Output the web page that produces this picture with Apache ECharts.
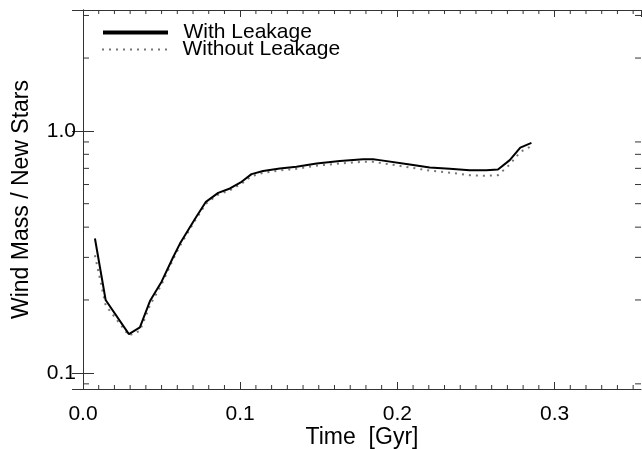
<!DOCTYPE html>
<html>
<head>
<meta charset="utf-8">
<script src="https://cdn.jsdelivr.net/npm/echarts@6/dist/echarts.min.js"></script>
<style>html,body{margin:0;padding:0;background:#fff;}#c{width:642px;height:449px;}</style>
</head>
<body>
<div id="c"></div>
<script>
// ---- data ----
const timeGyr = [0.0076, 0.0144, 0.0292, 0.0362, 0.0426, 0.0500, 0.0574, 0.0617, 0.0712, 0.0782,
  0.0860, 0.0935, 0.1009, 0.1072, 0.1146, 0.1252, 0.1358, 0.1486, 0.1634, 0.1782,
  0.1846, 0.1888, 0.2079, 0.2206, 0.2333, 0.2460, 0.2566, 0.2640, 0.2715, 0.2782, 0.2853];
const withLeakage = [0.359, 0.200, 0.1445, 0.154, 0.198, 0.238, 0.301, 0.342, 0.432, 0.509,
  0.554, 0.578, 0.616, 0.6625, 0.683, 0.699, 0.710, 0.733, 0.750, 0.764,
  0.764, 0.757, 0.726, 0.706, 0.697, 0.688, 0.688, 0.692, 0.757, 0.853, 0.892];
const withoutLeakage = [0.306, 0.190, 0.1425, 0.149, 0.190, 0.232, 0.295, 0.335, 0.425, 0.500,
  0.545, 0.568, 0.605, 0.650, 0.670, 0.686, 0.697, 0.718, 0.733, 0.745,
  0.745, 0.738, 0.706, 0.685, 0.672, 0.656, 0.652, 0.656, 0.726, 0.819, 0.865];
const seriesNames = ['With Leakage', 'Without Leakage'];
const xMinorTicks = [0.01,0.02,0.03,0.04,0.05,0.06,0.07,0.08,0.09,0.11,0.12,0.13,0.14,0.15,0.16,0.17,0.18,0.19,
  0.21,0.22,0.23,0.24,0.25,0.26,0.27,0.28,0.29,0.31,0.32,0.33,0.34,0.35];
const yMinorTicks = [0.09,0.2,0.3,0.4,0.5,0.6,0.7,0.8,0.9,2,3];

const X_MIN = 0, X_MAX = 0.355, Y_MIN = 0.0857, Y_MAX = 3.16;
const FONT = "'Liberation Sans', Arial, Helvetica, sans-serif";
const AX = '#333';

const pair = (xs, ys) => xs.map((x, i) => [x, ys[i]]);
const tickData = xMinorTicks.map(v => [v, Y_MIN, 0]).concat(yMinorTicks.map(v => [X_MIN, v, 1]));

function renderTicks(params, api) {
  const kind = api.value(2);
  const st = { stroke: AX, lineWidth: 1 };
  if (kind === 0) {
    const x = api.value(0);
    const b = api.coord([x, Y_MIN]), t = api.coord([x, Y_MAX]);
    return { type: 'group', children: [
      { type: 'line', shape: { x1: b[0], y1: b[1], x2: b[0], y2: b[1] - 4 }, style: st },
      { type: 'line', shape: { x1: t[0], y1: t[1], x2: t[0], y2: t[1] + 4 }, style: st }
    ]};
  } else {
    const y = api.value(1);
    const l = api.coord([X_MIN, y]), r = api.coord([X_MAX, y]);
    return { type: 'group', children: [
      { type: 'line', shape: { x1: l[0], y1: l[1], x2: l[0] + 6, y2: l[1] }, style: st },
      { type: 'line', shape: { x1: r[0], y1: r[1], x2: r[0] - 6, y2: r[1] }, style: st }
    ]};
  }
}

const chart = echarts.init(document.getElementById('c'), null, { renderer: 'canvas' });
const baseX = {
  type: 'value', min: X_MIN, max: X_MAX, interval: 0.1,
  axisLine: { show: true, lineStyle: { color: AX, width: 1 } },
  axisTick: { show: true, inside: true, length: 7, lineStyle: { color: AX } },
  splitLine: { show: false }
};
const baseY = {
  type: 'log', logBase: 10, min: Y_MIN, max: Y_MAX,
  axisLine: { show: true, lineStyle: { color: AX, width: 1 } },
  axisTick: { show: true, inside: true, length: 11, lineStyle: { color: AX } },
  splitLine: { show: false }
};
const legendCommon = {
  orient: 'horizontal', left: 101, itemWidth: 65, itemHeight: 12, padding: 0,
  textStyle: { fontFamily: FONT, fontSize: 21, color: '#000' },
  formatter: n => '\u2002' + n
};
chart.setOption({
  animation: false,
  backgroundColor: '#fff',
  textStyle: { fontFamily: FONT },
  grid: { left: 83, right: 1, top: 10, bottom: 60, containLabel: false, outerBoundsMode: 'none' },
  legend: [
    Object.assign({}, legendCommon, { top: 22,
      data: [{ name: seriesNames[0], itemStyle: { opacity: 0 }, lineStyle: { width: 4, color: '#000', type: 'solid' } }] }),
    Object.assign({}, legendCommon, { top: 39,
      data: [{ name: seriesNames[1], itemStyle: { opacity: 0 }, lineStyle: { width: 2, color: '#777', type: [2, 5] } }] })
  ],
  xAxis: [
    Object.assign({}, baseX, {
      position: 'bottom',
      name: 'Time  [Gyr]', nameLocation: 'middle', nameGap: 37, nameMoveOverlap: false,
      nameTextStyle: { fontFamily: FONT, fontSize: 23, color: '#000' },
      axisLabel: { show: true, fontFamily: FONT, fontSize: 21, color: '#000', margin: 15,
        showMaxLabel: false, formatter: v => v.toFixed(1) }
    }),
    Object.assign({}, baseX, { position: 'top', axisLabel: { show: false } })
  ],
  yAxis: [
    Object.assign({}, baseY, {
      position: 'left',
      name: 'Wind Mass / New Stars', nameLocation: 'middle', nameGap: 50, nameRotate: 90, nameMoveOverlap: false,
      nameTextStyle: { fontFamily: FONT, fontSize: 23, color: '#000' },
      axisLabel: { show: true, fontFamily: FONT, fontSize: 21, color: '#000', margin: 7,
        padding: [5, 0, 0, 0],
        showMinLabel: false, showMaxLabel: false, formatter: v => v.toFixed(1) }
    }),
    Object.assign({}, baseY, { position: 'right', axisLabel: { show: false } })
  ],
  series: [
    { name: seriesNames[0], type: 'line', data: pair(timeGyr, withLeakage), showSymbol: false, symbol: 'none',
      lineStyle: { color: '#000', width: 2 }, itemStyle: { color: '#000' }, z: 3 },
    { name: seriesNames[1], type: 'line', data: pair(timeGyr, withoutLeakage), showSymbol: false, symbol: 'none',
      lineStyle: { color: '#777', width: 2, type: [2, 5] }, itemStyle: { color: '#777' }, z: 2 },
    { type: 'custom', renderItem: renderTicks, data: tickData, encode: { x: 0, y: 1 },
      clip: false, silent: true, z: 1 }
  ]
});
</script>
</body>
</html>
